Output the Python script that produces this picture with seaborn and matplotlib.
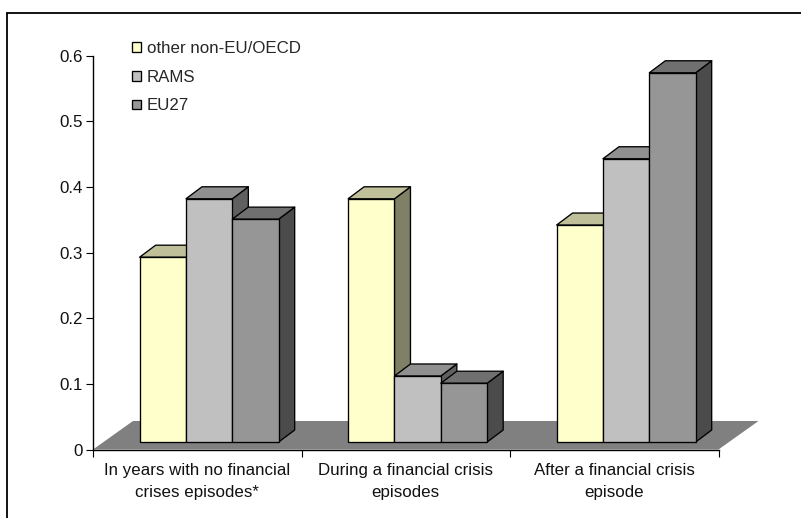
import matplotlib
matplotlib.use("Agg")
import matplotlib.pyplot as plt
import pandas as pd
import seaborn as sns
from matplotlib.lines import Line2D
from matplotlib.patches import Polygon

categories = ["In years with no financial\ncrises episodes*",
              "During a financial crisis\nepisodes",
              "After a financial crisis\nepisode"]
series_names = ["other non-EU/OECD", "RAMS", "EU27"]
other_values = [0.293, 0.382, 0.342]
rams_values = [0.382, 0.112, 0.443]
eu27_values = [0.351, 0.101, 0.574]
y_ticks = [0, 0.1, 0.2, 0.3, 0.4, 0.5, 0.6]
y_tick_labels = ["0", "0.1", "0.2", "0.3", "0.4", "0.5", "0.6"]
front_colors = ["#FFFFCC", "#C0C0C0", "#969696"]
top_colors = ["#BFBF99", "#909090", "#707070"]
side_colors = ["#808066", "#606060", "#4B4B4B"]

W, H = 801, 518
AX_L, AX_R, AX_TOP, AX_BOT = 93.0, 718.5, 55.7, 449.5
px_x = 3 / (AX_R - AX_L)
px_y = 0.6 / (AX_BOT - AX_TOP)

sns.set_style("white")
plt.rcParams["font.family"] = ["Liberation Sans", "DejaVu Sans"]
FS = 12.2
EDGE = 0.95

df = pd.DataFrame({
    "category": categories * 3,
    "series": [s for s in series_names for _ in categories],
    "value": other_values + rams_values + eu27_values,
})

fig = plt.figure(figsize=(W / 100, H / 100), dpi=100, facecolor="white")
ax = fig.add_axes([AX_L / W, 1 - AX_BOT / H, (AX_R - AX_L) / W, (AX_BOT - AX_TOP) / H])

sns.barplot(data=df, x="category", y="value", hue="series", order=categories,
            hue_order=series_names, palette=front_colors, width=0.667, gap=0,
            edgecolor="black", linewidth=EDGE, saturation=1, legend=True, ax=ax)

ax.set_xlim(-0.5, 2.5)
ax.set_ylim(0, 0.6)
ax.set_xlabel("")
ax.set_ylabel("")
ax.patch.set_alpha(0)

# 3D floor
floor_dx, floor_dy = 40 * px_x, 28.5 * px_y
ax.add_patch(Polygon([(-0.5, 0), (-0.5 + floor_dx, floor_dy),
                      (2.5 + floor_dx, floor_dy), (2.5, 0)],
                     closed=True, facecolor="#808080", edgecolor="none",
                     zorder=1, clip_on=False))

# 3D bars: keep the seaborn bars as front faces, add side and top
base = 7.5 * px_y
shift = 11.9 * px_x
depth_x, depth_y = 16 * px_x, 12 * px_y
for j, container in enumerate(ax.containers):
    for i, bar in enumerate(container):
        x0 = bar.get_x() + shift
        w = bar.get_width()
        top = bar.get_height()
        bar.set_x(x0)
        bar.set_y(base)
        bar.set_height(top - base)
        x1 = x0 + w
        z = 3 + (i * 3 + j)
        bar.set_zorder(z + 0.5)
        ax.add_patch(Polygon([(x1, base), (x1 + depth_x, base + depth_y),
                              (x1 + depth_x, top + depth_y), (x1, top)],
                             closed=True, facecolor=side_colors[j], edgecolor="black",
                             linewidth=EDGE, joinstyle="round", zorder=z, clip_on=False))
        ax.add_patch(Polygon([(x0, top), (x1, top),
                              (x1 + depth_x, top + depth_y), (x0 + depth_x, top + depth_y)],
                             closed=True, facecolor=top_colors[j], edgecolor="black",
                             linewidth=EDGE, joinstyle="round", zorder=z, clip_on=False))

# Axes
sns.despine(ax=ax, top=True, right=True)
for s in ["left", "bottom"]:
    ax.spines[s].set_linewidth(1.0)
    ax.spines[s].set_color("black")
    ax.spines[s].set_zorder(2)
ax.set_yticks(y_ticks)
ax.set_yticklabels(y_tick_labels, fontsize=FS, color="#111111")
ax.set_xticks([0, 1, 2])
ax.set_xticklabels(categories, fontsize=FS, color="#111111", linespacing=1.52)
ax.set_xticks([-0.5, 0.5, 1.5, 2.5], minor=True)
ax.tick_params(axis="y", left=True, length=5, width=0.8, pad=2.2, color="black")
ax.tick_params(axis="x", which="major", bottom=False, length=0, pad=10)
ax.tick_params(axis="x", which="minor", bottom=True, length=5, width=0.8, color="black")

# Legend
handles, labels = ax.get_legend_handles_labels()
ax.legend(handles, labels, loc="upper left", frameon=False, fontsize=FS,
          bbox_to_anchor=((129 - AX_L) / (AX_R - AX_L), 1 + (AX_TOP - 38) / (AX_BOT - AX_TOP)),
          borderaxespad=0, borderpad=0.2, handlelength=0.53, handleheight=0.53,
          handletextpad=0.33, labelspacing=0.8)

# Chart-area border (top and left only reach into the picture)
fig.add_artist(Line2D([6.5 / W, 6.5 / W], [0, 1 - 12.5 / H], color="black", lw=1.3))
fig.add_artist(Line2D([6.5 / W, 1], [1 - 12.5 / H, 1 - 12.5 / H], color="black", lw=1.3))

fig.savefig("out.png", dpi=100, facecolor="white")
